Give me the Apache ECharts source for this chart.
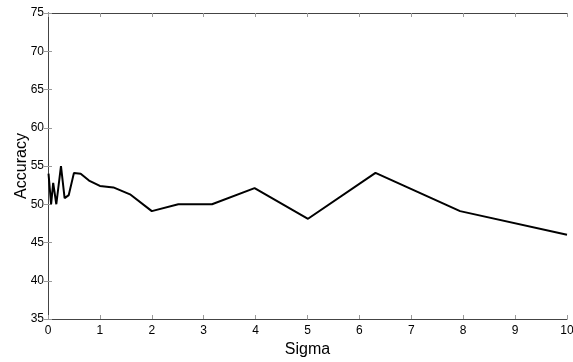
<!DOCTYPE html>
<html>
<head>
<meta charset="utf-8">
<script src="https://cdn.jsdelivr.net/npm/echarts@6/dist/echarts.min.js"></script>
<style>
  html, body { margin: 0; padding: 0; background: #fff; }
  #chart { width: 573px; height: 362px; }
</style>
</head>
<body>
<div id="chart"></div>
<script>
// sigma values (x) and accuracy (y)
const sigma = [0.01, 0.06, 0.1, 0.16, 0.25, 0.32, 0.4, 0.5, 0.63, 0.79, 1, 1.26, 1.58, 2, 2.51, 3.16, 3.98, 5.01, 6.31, 7.94, 10];
const accuracy = [54, 50, 52.8, 50, 55, 50.8, 51.2, 54.1, 54, 53.1, 52.4, 52.2, 51.3, 49.1, 50, 50, 52.1, 48.1, 54.1, 49.1, 46];
const xTicks = [0, 1, 2, 3, 4, 5, 6, 7, 8, 9, 10];
const yTicks = [35, 40, 45, 50, 55, 60, 65, 70, 75];

const chart = echarts.init(document.getElementById("chart"));

const axisLine = { show: true, lineStyle: { color: "#444", width: 1 } };
const axisTick = { show: true, inside: true, length: 4, lineStyle: { color: "#999" } };
const labelStyle = { color: "#000", fontFamily: "Liberation Sans", fontSize: 12 };
const nameStyle = { color: "#000", fontFamily: "Liberation Sans", fontSize: 16 };

const option = {
    animation: false,
    grid: { left: 48, top: 13, right: 6, bottom: 43, outerBoundsMode: "none", containLabel: false },
    xAxis: [
        {
            type: "value",
            min: xTicks[0],
            max: xTicks[xTicks.length - 1],
            interval: 1,
            name: "Sigma",
            nameLocation: "middle",
            nameGap: 23,
            nameMoveOverlap: false,
            nameTextStyle: nameStyle,
            axisLine: axisLine,
            axisTick: axisTick,
            axisLabel: { ...labelStyle, margin: 6 },
            splitLine: { show: false },
        },
        {
            type: "value",
            position: "top",
            min: 0,
            max: 10,
            interval: 1,
            axisLine: axisLine,
            axisTick: axisTick,
            axisLabel: { show: false },
            splitLine: { show: false },
        },
    ],
    yAxis: [
        {
            type: "value",
            min: yTicks[0],
            max: yTicks[yTicks.length - 1],
            interval: 5,
            name: "Accuracy",
            nameLocation: "middle",
            nameGap: 18,
            nameMoveOverlap: false,
            nameTextStyle: nameStyle,
            axisLine: axisLine,
            axisTick: axisTick,
            axisLabel: { ...labelStyle, margin: 4 },
            splitLine: { show: false },
        },
        {
            type: "value",
            position: "right",
            min: 35,
            max: 75,
            interval: 5,
            axisLine: axisLine,
            axisTick: axisTick,
            axisLabel: { show: false },
            splitLine: { show: false },
        },
    ],
    series: [
        {
            type: "line",
            data: sigma.map((s, i) => [s, accuracy[i]]),
            showSymbol: false,
            lineStyle: { color: "#000", width: 2 },
            itemStyle: { color: "#000" },
        },
    ],
};

chart.setOption(option);
</script>
</body>
</html>
